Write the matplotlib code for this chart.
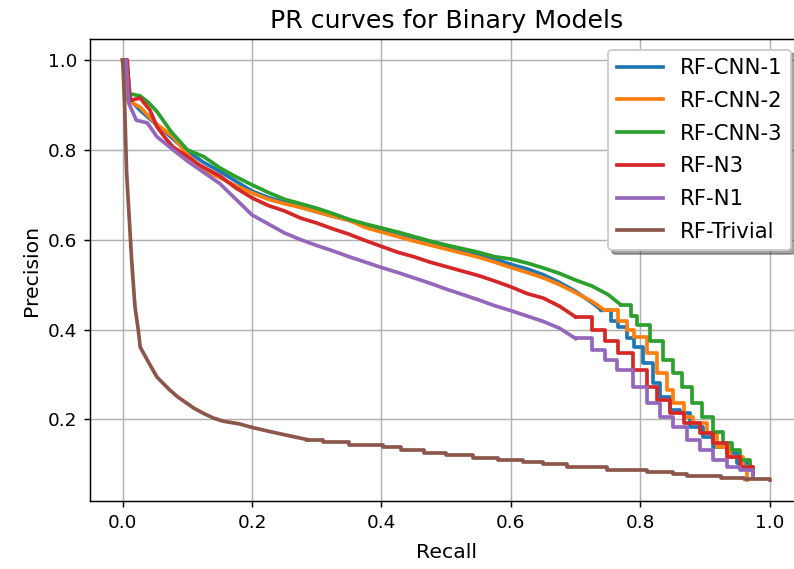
import matplotlib
matplotlib.use("Agg")
import matplotlib.pyplot as plt

# PR curve points (recall, precision)
cnn1_recall = [0, 0.006, 0.012, 0.027, 0.045, 0.068, 0.085, 0.104, 0.125, 0.15, 0.175, 0.2,
               0.225, 0.25, 0.275, 0.3, 0.325, 0.35, 0.375, 0.4, 0.425, 0.45, 0.475, 0.5,
               0.525, 0.55, 0.575, 0.6, 0.625, 0.65, 0.675, 0.7, 0.725, 0.74, 0.755, 0.765,
               0.78, 0.79, 0.804, 0.82, 0.831, 0.846, 0.862, 0.877, 0.897, 0.912, 0.934,
               0.95, 0.97, 0.975]
cnn1_precision = [1.0, 1.0, 0.91, 0.888, 0.865, 0.837, 0.815, 0.793, 0.772, 0.752, 0.73, 0.708,
                  0.694, 0.683, 0.672, 0.662, 0.652, 0.643, 0.632, 0.622, 0.615, 0.605, 0.596,
                  0.586, 0.576, 0.566, 0.557, 0.545, 0.535, 0.522, 0.505, 0.485, 0.46, 0.443,
                  0.42, 0.405, 0.38, 0.36, 0.325, 0.28, 0.25, 0.22, 0.214, 0.183, 0.16, 0.138,
                  0.125, 0.102, 0.087, 0.075]

cnn2_recall = [0, 0.008, 0.027, 0.05, 0.078, 0.1, 0.125, 0.15, 0.175, 0.2, 0.225, 0.25, 0.275,
               0.3, 0.325, 0.35, 0.375, 0.4, 0.425, 0.45, 0.475, 0.5, 0.525, 0.55, 0.575, 0.6,
               0.625, 0.65, 0.675, 0.7, 0.725, 0.745, 0.765, 0.78, 0.79, 0.81, 0.826, 0.841,
               0.851, 0.867, 0.882, 0.903, 0.919, 0.939, 0.959, 0.965]
cnn2_precision = [1.0, 0.91, 0.895, 0.86, 0.829, 0.79, 0.755, 0.738, 0.72, 0.704, 0.69, 0.68,
                  0.672, 0.662, 0.652, 0.643, 0.627, 0.617, 0.607, 0.597, 0.588, 0.579, 0.57,
                  0.561, 0.55, 0.538, 0.527, 0.515, 0.5, 0.482, 0.463, 0.443, 0.42, 0.4, 0.383,
                  0.347, 0.303, 0.265, 0.236, 0.205, 0.192, 0.169, 0.138, 0.116, 0.094, 0.065]

cnn3_recall = [0, 0.006, 0.01, 0.027, 0.04, 0.053, 0.075, 0.1, 0.125, 0.15, 0.175, 0.2, 0.225,
               0.25, 0.275, 0.3, 0.325, 0.35, 0.375, 0.4, 0.425, 0.45, 0.475, 0.5, 0.525, 0.55,
               0.575, 0.6, 0.625, 0.65, 0.675, 0.7, 0.725, 0.75, 0.77, 0.785, 0.795, 0.815,
               0.835, 0.851, 0.864, 0.88, 0.895, 0.912, 0.928, 0.942, 0.954, 0.97, 0.975]
cnn3_precision = [1.0, 1.0, 0.925, 0.92, 0.905, 0.885, 0.84, 0.8, 0.785, 0.76, 0.74, 0.722,
                  0.705, 0.69, 0.68, 0.67, 0.658, 0.645, 0.635, 0.626, 0.617, 0.607, 0.597,
                  0.588, 0.58, 0.572, 0.562, 0.557, 0.548, 0.537, 0.525, 0.51, 0.497, 0.478,
                  0.455, 0.43, 0.41, 0.375, 0.332, 0.303, 0.272, 0.236, 0.205, 0.171, 0.147,
                  0.131, 0.109, 0.094, 0.075]

n3_recall = [0, 0.007, 0.011, 0.027, 0.042, 0.053, 0.065, 0.078, 0.1, 0.12, 0.15, 0.175, 0.2,
             0.225, 0.25, 0.275, 0.3, 0.325, 0.35, 0.375, 0.4, 0.425, 0.45, 0.475, 0.5, 0.525,
             0.55, 0.575, 0.6, 0.625, 0.65, 0.675, 0.7, 0.725, 0.745, 0.765, 0.789, 0.81, 0.826,
             0.846, 0.867, 0.893, 0.912, 0.934, 0.954, 0.975]
n3_precision = [1.0, 1.0, 0.91, 0.915, 0.889, 0.851, 0.828, 0.806, 0.785, 0.765, 0.742, 0.715,
                0.693, 0.676, 0.664, 0.648, 0.637, 0.624, 0.612, 0.598, 0.585, 0.572, 0.562,
                0.55, 0.54, 0.53, 0.52, 0.508, 0.495, 0.48, 0.47, 0.452, 0.428, 0.4, 0.375,
                0.347, 0.31, 0.272, 0.243, 0.214, 0.192, 0.169, 0.147, 0.116, 0.094, 0.08]

n1_recall = [0, 0.005, 0.009, 0.021, 0.038, 0.053, 0.078, 0.1, 0.12, 0.15, 0.175, 0.2, 0.225,
             0.25, 0.275, 0.3, 0.325, 0.35, 0.375, 0.4, 0.425, 0.45, 0.475, 0.5, 0.525, 0.55,
             0.575, 0.6, 0.625, 0.65, 0.675, 0.7, 0.725, 0.745, 0.764, 0.789, 0.81, 0.831,
             0.851, 0.872, 0.893, 0.912, 0.934, 0.954, 0.975]
n1_precision = [1.0, 1.0, 0.905, 0.866, 0.86, 0.829, 0.8, 0.775, 0.755, 0.725, 0.69, 0.655,
                0.635, 0.615, 0.6, 0.587, 0.575, 0.562, 0.55, 0.538, 0.527, 0.515, 0.503, 0.49,
                0.478, 0.466, 0.453, 0.442, 0.43, 0.418, 0.403, 0.38, 0.355, 0.332, 0.31,
                0.272, 0.236, 0.205, 0.183, 0.154, 0.131, 0.109, 0.094, 0.087, 0.071]

trivial_recall = [0, 0.003, 0.006, 0.01, 0.014, 0.019, 0.024, 0.027, 0.038, 0.053, 0.073, 0.085,
                  0.099, 0.11, 0.124, 0.14, 0.155, 0.18, 0.2, 0.23, 0.259, 0.285, 0.31, 0.35,
                  0.403, 0.43, 0.465, 0.5, 0.542, 0.58, 0.619, 0.65, 0.687, 0.749, 0.81, 0.85,
                  0.872, 0.924, 0.96, 1.0]
trivial_precision = [1.0, 0.9, 0.75, 0.65, 0.55, 0.45, 0.4, 0.361, 0.332, 0.294, 0.265, 0.25,
                     0.236, 0.225, 0.214, 0.203, 0.196, 0.19, 0.182, 0.172, 0.163, 0.155, 0.149,
                     0.143, 0.138, 0.131, 0.125, 0.12, 0.114, 0.109, 0.105, 0.1, 0.094, 0.087,
                     0.082, 0.078, 0.073, 0.069, 0.067, 0.065]

models = ["RF-CNN-1", "RF-CNN-2", "RF-CNN-3", "RF-N3", "RF-N1", "RF-Trivial"]
recalls = [cnn1_recall, cnn2_recall, cnn3_recall, n3_recall, n1_recall, trivial_recall]
precisions = [cnn1_precision, cnn2_precision, cnn3_precision, n3_precision, n1_precision,
              trivial_precision]
# recall from which the curve is drawn as a visible staircase
step_from = [0.74, 0.745, 0.77, 0.7, 0.7, 0.3]

fig = plt.figure(figsize=(794 / 133, 569 / 133), dpi=133)
ax = fig.add_axes([0.1138, 0.1195, 0.8963, 0.812])

colors = plt.rcParams["axes.prop_cycle"].by_key()["color"]
for name, r, p, s, c in zip(models, recalls, precisions, step_from, colors):
    k = max(i for i, v in enumerate(r) if v <= s)
    # smooth-looking head, staircase tail
    ax.plot(r[:k + 1], p[:k + 1], color=c, linewidth=2, label=name)
    ax.plot(r[k:], p[k:], color=c, linewidth=2, drawstyle="steps-post")

ax.grid(True)
ax.set_xlabel("Recall", fontsize=11, labelpad=6)
ax.set_ylabel("Precision", fontsize=11)
ax.set_title("PR curves for Binary Models", fontsize=13.7)
ax.legend(loc="upper right", shadow=True, fontsize=11.5, handlelength=2.2,
          labelspacing=0.6)

fig.savefig("out.png", dpi=133)
plt.close()
